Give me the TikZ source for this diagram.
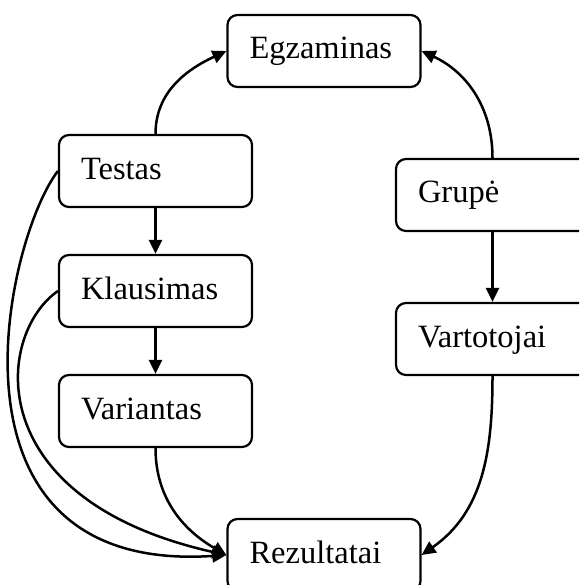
\documentclass[tikz,border=0pt]{standalone}
\usepackage{fontspec}
\setmainfont{Liberation Serif}
\usetikzlibrary{arrows.meta}
\begin{document}
\begin{tikzpicture}[x=1pt,y=1pt,
  entity/.style={draw, line width=2.2pt, rounded corners=10pt,
    minimum height=72pt, text width=149pt, inner xsep=22pt, align=left,
    font=\fontsize{32.5}{39}\selectfont, text height=24pt, text depth=8pt},
  link/.style={line width=2.5pt, -{Triangle[length=14pt,width=13pt]}}]
\useasboundingbox (0,0) rectangle (579,-585);
\clip (0,0) rectangle (579,-585);

% entities
\node[entity] (E)  at (324,-51)    {Egzaminas};
\node[entity] (T)  at (155.5,-171) {Testas};
\node[entity] (K)  at (155.5,-291) {Klausimas};
\node[entity] (V)  at (155.5,-411) {Variantas};
\node[entity] (G)  at (492.5,-195) {Grupė};
\node[entity] (Va) at (492.5,-339) {Vartotojai};
\node[entity] (R)  at (324,-555)   {Rezultatai};

% relations
\draw[link] (T.north) to[out=90,in=205] (E.west);
\draw[link] (G.north) to[out=90,in=-25] (E.east);
\draw[link] (T.south) -- (K.north);
\draw[link] (K.south) -- (V.north);
\draw[link] (G.south) -- (Va.north);
\draw[link] (V.south) to[out=-90,in=150] (R.west);
\draw[link] (Va.south) to[out=-90,in=35] (R.east);
\draw[link] (T.west) .. controls (5,-240) and (-70,-575) .. (R.west);
\draw[link] (K.west) .. controls (-5,-335) and (-20,-500) .. (R.west);
\end{tikzpicture}
\end{document}
